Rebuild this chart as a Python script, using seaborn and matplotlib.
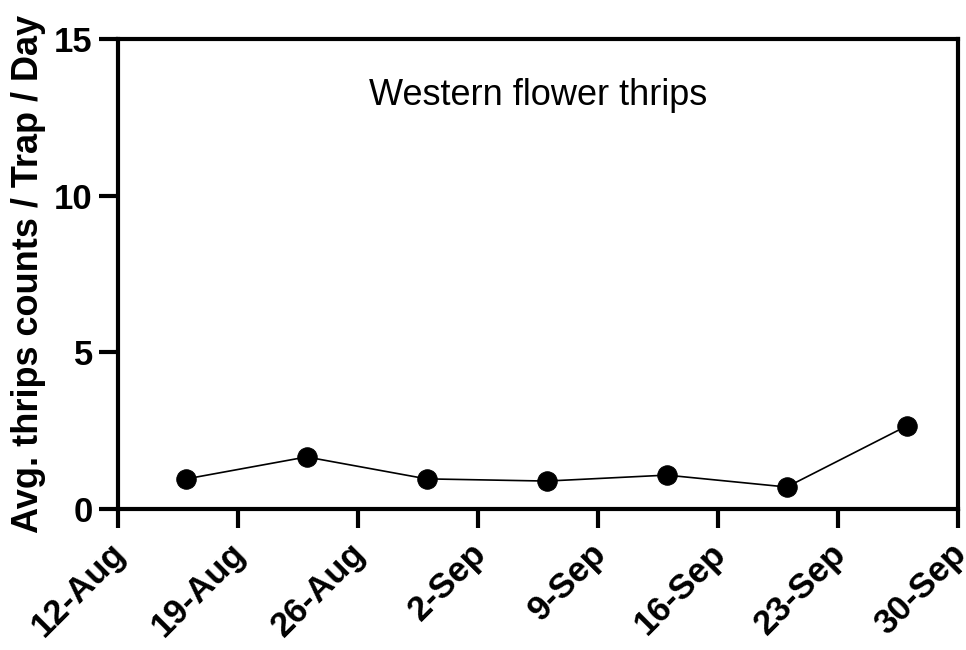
import pandas as pd
import matplotlib.pyplot as plt
import matplotlib.transforms as mtransforms
import seaborn as sns

# Weekly trap counts
dates = ["2018-08-16", "2018-08-23", "2018-08-30", "2018-09-06",
         "2018-09-13", "2018-09-20", "2018-09-27"]
counts = [0.96, 1.66, 0.96, 0.89, 1.08, 0.70, 2.65]

tick_dates = ["2018-08-12", "2018-08-19", "2018-08-26", "2018-09-02",
              "2018-09-09", "2018-09-16", "2018-09-23", "2018-09-30"]
tick_labels = ["12-Aug", "19-Aug", "26-Aug", "2-Sep", "9-Sep", "16-Sep", "23-Sep", "30-Sep"]
y_ticks = [0, 5, 10, 15]

df = pd.DataFrame({"Date": pd.to_datetime(dates), "Count": counts})

sns.set_style("ticks")
plt.rcParams["font.family"] = ["Liberation Sans", "DejaVu Sans"]
plt.rcParams["text.color"] = "black"
plt.rcParams["axes.labelcolor"] = "black"
plt.rcParams["xtick.color"] = "black"
plt.rcParams["ytick.color"] = "black"

fig = plt.figure(figsize=(9.66, 6.5), dpi=100)
ax = fig.add_axes([0.122, 0.217, 0.870, 0.723])

sns.lineplot(data=df, x="Date", y="Count", ax=ax, color="black", linewidth=1.2,
             marker="o", markersize=14, markeredgecolor="black", markerfacecolor="black")

ticks = pd.to_datetime(tick_dates)
ax.set_xlim(ticks[0], ticks[-1])
ax.set_ylim(0, 15)
ax.set_xticks(ticks)
ax.set_xticklabels(tick_labels, rotation=45, ha="right", rotation_mode="anchor",
                   fontsize=25, fontweight="bold")
ax.set_yticks(y_ticks)
ax.set_yticklabels([str(v) for v in y_ticks], fontsize=25, fontweight="bold")

for s in ax.spines.values():
    s.set_linewidth(3)
    s.set_color("black")
ax.tick_params(axis="both", width=3, length=14, color="black", pad=4)
ax.tick_params(axis="x", pad=6)

# nudge the rotated date labels a little left so the last one fits
shift = mtransforms.ScaledTranslation(-9 / 100, 0, fig.dpi_scale_trans)
for lbl in ax.get_xticklabels():
    lbl.set_transform(lbl.get_transform() + shift)

ax.set_xlabel("")
ax.set_ylabel("Avg. thrips counts / Trap / Day", fontsize=26, fontweight="bold", labelpad=6)
ax.text(0.5, 0.88, "Western flower thrips", transform=ax.transAxes,
        ha="center", va="center", fontsize=26)

plt.savefig("out.png", dpi=100)
